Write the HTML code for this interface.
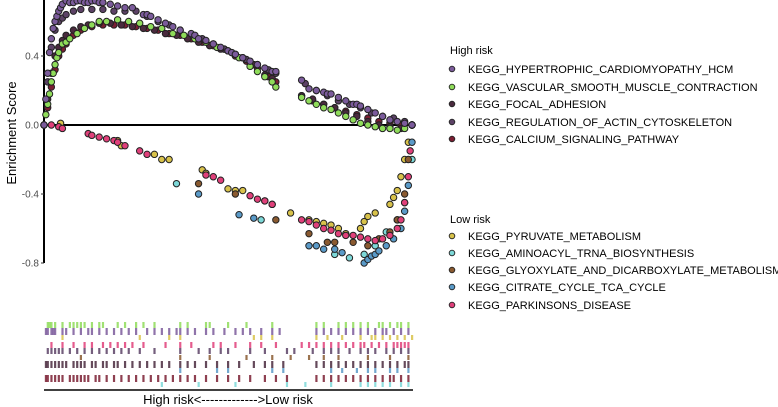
<!DOCTYPE html>
<html><head><meta charset="utf-8"><style>
html,body{margin:0;padding:0;background:#fff;}
svg{display:block;font-family:"Liberation Sans",Arial,sans-serif;}
</style></head><body>
<svg id="chart" width="778" height="407" viewBox="0 0 778 407">
<g id="plot"></g>
<g id="rug"></g>
<g id="legend"></g>
</svg>
<script>
const seriesNames = ["KEGG_HYPERTROPHIC_CARDIOMYOPATHY_HCM","KEGG_VASCULAR_SMOOTH_MUSCLE_CONTRACTION","KEGG_FOCAL_ADHESION","KEGG_REGULATION_OF_ACTIN_CYTOSKELETON","KEGG_CALCIUM_SIGNALING_PATHWAY","KEGG_PYRUVATE_METABOLISM","KEGG_AMINOACYL_TRNA_BIOSYNTHESIS","KEGG_GLYOXYLATE_AND_DICARBOXYLATE_METABOLISM","KEGG_CITRATE_CYCLE_TCA_CYCLE","KEGG_PARKINSONS_DISEASE"];
const seriesColors = ["#7b5b9b","#8fdc5a","#4a2a3e","#5c4266","#7a1e32","#d8c24a","#7dd8d8","#8a5a30","#5a9ac8","#e0407a"];
const yTicks = [0.4,0.0,-0.4,-0.8];
const yTickLabels = ["0.4","0.0","-0.4","-0.8"];
const sHCM = [[0,0],[0.005,0.15],[0.01,0.3],[0.015,0.42],[0.02,0.5],[0.025,0.56],[0.03,0.6],[0.035,0.63],[0.04,0.66],[0.045,0.68],[0.05,0.7],[0.06,0.72],[0.07,0.71],[0.08,0.71],[0.09,0.72],[0.1,0.72],[0.11,0.71],[0.12,0.71],[0.13,0.72],[0.14,0.72],[0.15,0.71],[0.16,0.71],[0.18,0.7],[0.2,0.69],[0.22,0.68],[0.24,0.68],[0.27,0.64],[0.28,0.64],[0.29,0.63],[0.31,0.61],[0.33,0.59],[0.35,0.57],[0.37,0.55],[0.4,0.53],[0.41,0.52],[0.42,0.5],[0.44,0.49],[0.46,0.47],[0.48,0.45],[0.5,0.43],[0.51,0.42],[0.52,0.41],[0.54,0.39],[0.56,0.37],[0.58,0.35],[0.6,0.33],[0.62,0.31],[0.63,0.31],[0.7,0.26],[0.72,0.21],[0.74,0.2],[0.76,0.19],[0.77,0.18],[0.78,0.18],[0.8,0.16],[0.82,0.14],[0.84,0.12],[0.85,0.12],[0.86,0.11],[0.88,0.09],[0.9,0.07],[0.92,0.05],[0.94,0.03],[0.96,0.02],[0.98,0.01],[1,0]];
const sVasc = [[0,0],[0.005,0.06],[0.01,0.12],[0.015,0.18],[0.02,0.25],[0.025,0.3],[0.03,0.35],[0.035,0.39],[0.04,0.42],[0.05,0.47],[0.06,0.48],[0.07,0.5],[0.09,0.53],[0.11,0.56],[0.13,0.58],[0.15,0.6],[0.17,0.6],[0.2,0.61],[0.23,0.6],[0.26,0.59],[0.29,0.57],[0.32,0.56],[0.35,0.53],[0.38,0.52],[0.41,0.5],[0.44,0.48],[0.47,0.45],[0.5,0.43],[0.53,0.39],[0.56,0.34],[0.58,0.31],[0.6,0.28],[0.62,0.25],[0.63,0.22],[0.7,0.16],[0.72,0.14],[0.74,0.12],[0.76,0.1],[0.78,0.09],[0.8,0.07],[0.82,0.05],[0.84,0.03],[0.86,0.01],[0.88,0.0],[0.9,-0.01],[0.92,-0.02],[0.94,-0.02],[0.96,-0.03],[0.98,-0.02],[1,0]];
const sFocal = [[0,0],[0.01,0.15],[0.02,0.3],[0.03,0.4],[0.04,0.45],[0.05,0.49],[0.06,0.52],[0.08,0.55],[0.1,0.57],[0.12,0.58],[0.15,0.59],[0.18,0.59],[0.21,0.58],[0.24,0.57],[0.27,0.56],[0.3,0.55],[0.33,0.53],[0.36,0.52],[0.39,0.5],[0.42,0.48],[0.45,0.46],[0.48,0.44],[0.51,0.42],[0.54,0.39],[0.57,0.35],[0.6,0.29],[0.62,0.27],[0.7,0.17],[0.73,0.15],[0.76,0.12],[0.79,0.1],[0.82,0.07],[0.85,0.05],[0.88,0.02],[0.91,0.0],[0.94,-0.01],[0.97,-0.02],[1,0]];
const sActin = [[0,0],[0.01,0.25],[0.02,0.45],[0.03,0.55],[0.04,0.6],[0.05,0.62],[0.06,0.64],[0.08,0.66],[0.1,0.67],[0.13,0.67],[0.16,0.67],[0.19,0.66],[0.22,0.66],[0.25,0.66],[0.28,0.63],[0.31,0.6],[0.34,0.58],[0.37,0.55],[0.4,0.52],[0.43,0.5],[0.46,0.47],[0.49,0.44],[0.52,0.41],[0.55,0.38],[0.58,0.35],[0.61,0.32],[0.63,0.3],[0.71,0.24],[0.74,0.2],[0.77,0.17],[0.8,0.14],[0.83,0.12],[0.86,0.1],[0.89,0.07],[0.92,0.05],[0.95,0.04],[0.98,0.02],[1,0]];
const sCalc = [[0,0],[0.01,0.1],[0.02,0.22],[0.03,0.32],[0.04,0.4],[0.05,0.44],[0.06,0.47],[0.08,0.52],[0.1,0.55],[0.13,0.57],[0.16,0.58],[0.19,0.58],[0.22,0.58],[0.25,0.57],[0.28,0.56],[0.31,0.55],[0.34,0.53],[0.37,0.52],[0.4,0.5],[0.43,0.48],[0.46,0.46],[0.49,0.44],[0.52,0.4],[0.55,0.37],[0.58,0.33],[0.61,0.28],[0.63,0.25],[0.7,0.17],[0.73,0.14],[0.76,0.12],[0.79,0.1],[0.82,0.08],[0.85,0.06],[0.88,0.04],[0.91,0.02],[0.94,0.01],[0.97,0.0],[1,0]];
const sPyr = [[0.045,0.01],[0.2,-0.09],[0.21,-0.12],[0.3,-0.17],[0.32,-0.2],[0.34,-0.2],[0.43,-0.26],[0.44,-0.28],[0.5,-0.37],[0.52,-0.38],[0.54,-0.38],[0.6,-0.44],[0.62,-0.46],[0.67,-0.51],[0.72,-0.55],[0.74,-0.56],[0.76,-0.57],[0.78,-0.58],[0.8,-0.6],[0.82,-0.63],[0.86,-0.6],[0.87,-0.56],[0.88,-0.53],[0.9,-0.51],[0.94,-0.46],[0.95,-0.42],[0.96,-0.38],[0.97,-0.3],[0.98,-0.2],[0.99,-0.1],[1,0]];
const sAmino = [[0.36,-0.34],[0.59,-0.55],[0.79,-0.75],[0.83,-0.77],[0.87,-0.75],[0.9,-0.7],[0.93,-0.62],[0.96,-0.55],[0.98,-0.45],[1,-0.2]];
const sGlyox = [[0.42,-0.34],[0.52,-0.4],[0.63,-0.55],[0.72,-0.63],[0.77,-0.68],[0.79,-0.68],[0.84,-0.68],[0.88,-0.7],[0.91,-0.66],[0.94,-0.62],[0.96,-0.55],[0.98,-0.4],[0.99,-0.2],[1,0]];
const sCitr = [[0.42,-0.4],[0.53,-0.52],[0.57,-0.54],[0.72,-0.7],[0.74,-0.7],[0.76,-0.72],[0.79,-0.72],[0.81,-0.74],[0.87,-0.8],[0.88,-0.78],[0.89,-0.76],[0.9,-0.75],[0.91,-0.73],[0.93,-0.7],[0.95,-0.66],[0.97,-0.6],[0.98,-0.5],[0.99,-0.35],[1,-0.1]];
const sPark = [[0.02,0],[0.04,-0.01],[0.05,-0.02],[0.12,-0.05],[0.13,-0.06],[0.15,-0.07],[0.17,-0.08],[0.19,-0.09],[0.2,-0.1],[0.22,-0.12],[0.26,-0.15],[0.28,-0.17],[0.44,-0.29],[0.46,-0.3],[0.48,-0.32],[0.56,-0.41],[0.58,-0.43],[0.6,-0.44],[0.62,-0.46],[0.7,-0.55],[0.72,-0.56],[0.74,-0.58],[0.76,-0.6],[0.78,-0.61],[0.8,-0.63],[0.82,-0.64],[0.84,-0.64],[0.86,-0.65],[0.88,-0.66],[0.9,-0.67],[0.92,-0.66],[0.94,-0.64],[0.96,-0.6],[0.97,-0.55],[0.98,-0.45],[0.99,-0.3],[0.995,-0.15],[1,0]];
const seriesData = [sHCM,sVasc,sFocal,sActin,sCalc,sPyr,sAmino,sGlyox,sCitr,sPark];
const rugVasc = [0.01,0.015,0.02,0.03,0.05,0.07,0.08,0.09,0.1,0.11,0.13,0.15,0.16,0.2,0.22,0.25,0.27,0.3,0.37,0.39,0.44,0.45,0.5,0.55,0.62,0.74,0.76,0.8,0.82,0.84,0.86,0.88,0.91,0.92,0.94,0.96,0.97,0.99];
const rugHCM = [0.005,0.01,0.02,0.025,0.03,0.05,0.06,0.08,0.1,0.12,0.13,0.15,0.17,0.19,0.21,0.23,0.25,0.28,0.3,0.32,0.34,0.36,0.37,0.39,0.41,0.44,0.46,0.49,0.52,0.54,0.56,0.59,0.62,0.64,0.74,0.76,0.78,0.8,0.82,0.84,0.86,0.88,0.9,0.92,0.93,0.95,0.97,0.99];
const rugPyr = [0.05,0.26,0.34,0.37,0.57,0.59,0.62,0.74,0.77,0.81,0.86,0.89,0.9,0.92,0.94,0.96,0.98,1.0];
const rugPark = [0.02,0.05,0.08,0.11,0.13,0.16,0.18,0.2,0.22,0.24,0.27,0.33,0.37,0.4,0.46,0.48,0.52,0.56,0.59,0.63,0.7,0.72,0.74,0.76,0.78,0.8,0.82,0.84,0.86,0.87,0.89,0.91,0.93,0.95,0.96,0.97,0.98,0.99];
const rugActin = [0.01,0.02,0.03,0.04,0.05,0.07,0.09,0.11,0.13,0.15,0.17,0.19,0.21,0.23,0.26,0.3,0.37,0.42,0.45,0.48,0.5,0.56,0.6,0.66,0.68,0.73,0.76,0.78,0.8,0.83,0.86,0.88,0.9,0.93,0.95,0.97,0.99];
const rugGlyox = [0.1,0.37,0.45,0.55,0.62,0.67,0.72,0.76,0.8,0.88,0.94,0.99];
const rugFocal = [0.005,0.01,0.02,0.03,0.04,0.05,0.06,0.08,0.09,0.1,0.11,0.13,0.14,0.16,0.17,0.19,0.2,0.22,0.24,0.26,0.28,0.3,0.32,0.34,0.37,0.39,0.41,0.44,0.47,0.5,0.53,0.57,0.6,0.62,0.65,0.74,0.76,0.78,0.8,0.82,0.84,0.86,0.88,0.9,0.92,0.94,0.96,0.98,0.99];
const rugCitr = [0.37,0.47,0.5,0.62,0.65,0.78,0.81,0.85,0.88,0.9,0.94,0.96,0.99];
const rugCalc = [0.005,0.01,0.02,0.03,0.04,0.05,0.07,0.08,0.09,0.1,0.11,0.12,0.14,0.15,0.17,0.19,0.21,0.23,0.25,0.27,0.29,0.31,0.33,0.35,0.37,0.39,0.41,0.44,0.47,0.5,0.53,0.56,0.6,0.63,0.66,0.74,0.76,0.78,0.8,0.82,0.84,0.86,0.88,0.9,0.92,0.94,0.95,0.97,0.99];
const rugAmino = [0.32,0.42,0.52,0.66,0.71,0.78,0.86,0.88,0.9,0.92,0.94,0.97,0.99];
const rugRows = [rugVasc,rugHCM,rugPyr,rugPark,rugActin,rugGlyox,rugFocal,rugCitr,rugCalc,rugAmino];
const rugRowSeries = [1,0,5,9,3,7,2,8,4,6];

const NS="http://www.w3.org/2000/svg";
const X0=44,X1=412,Y0=125,K=172.5;
const xs=f=>X0+f*(X1-X0);
const ys=v=>Y0-v*K;
function mk(tag,attrs,parent){const e=document.createElementNS(NS,tag);for(const k in attrs)e.setAttribute(k,attrs[k]);parent.appendChild(e);return e;}
const plot=document.getElementById('plot');
let yl=mk('line',{x1:X0,y1:0,x2:X0,y2:ys(-0.8),stroke:'#000','stroke-width':2},plot);


let zl=mk('line',{x1:X0,y1:ys(0),x2:X1,y2:ys(0),stroke:'#000','stroke-width':2},plot);


yTicks.forEach((t,i)=>{
  const tk=mk('line',{x1:X0-3,y1:ys(t),x2:X0,y2:ys(t),stroke:'#333','stroke-width':1},plot);
  
  
  const tl=mk('text',{x:X0-5,y:ys(t)+3.5,'text-anchor':'end','font-size':10,fill:'#4d4d4d'},plot);
  tl.textContent=yTickLabels[i];
  
  
});
const yt=mk('text',{x:0,y:0,transform:'translate(16,133) rotate(-90)','text-anchor':'middle','font-size':13,fill:'#000'},plot);
yt.textContent='Enrichment Score';


const order=[5,6,7,8,9,4,3,2,1,0];
order.forEach(si=>{
  const g=mk('g',{},plot);
  
  
  seriesData[si].forEach(p=>{
    const c=mk('circle',{cx:xs(p[0]),cy:ys(p[1]),r:3.2,fill:seriesColors[si],stroke:'#222','stroke-width':1},g);
    
    
  });
});
const rug=document.getElementById('rug');
const rowY=[322,328,335,342,348,355,361,368,375,382];
const rowH=[6,7,5,6,6,5,7,5,7,5];
rugRows.forEach((row,ri)=>{
  const g=mk('g',{},rug);
  
  
  row.forEach(f=>{
    const r=mk('rect',{x:xs(f)-1,y:rowY[ri],width:2.2,height:rowH[ri],fill:seriesColors[rugRowSeries[ri]],opacity:0.85},g);
    
    
  });
});
let bl=mk('line',{x1:X0,y1:390,x2:X1+1,y2:390,stroke:'#000','stroke-width':1.6},rug);


let xt=mk('text',{x:228,y:404,'text-anchor':'middle','font-size':13,fill:'#000'},rug);
xt.textContent='High risk<------------->Low risk';


const leg=document.getElementById('legend');
const groups=[{title:'High risk',ty:50,ys:[69,87,104,122,139],idx:[0,1,2,3,4]},{title:'Low risk',ty:219,ys:[236,253,270,287,305],idx:[5,6,7,8,9]}];
groups.forEach(gr=>{
  const t=mk('text',{x:450,y:gr.ty+4,'font-size':11,fill:'#000'},leg);
  t.textContent=gr.title;
  
  
  gr.idx.forEach((si,k)=>{
    const g=mk('g',{},leg);
    
    
    mk('circle',{cx:452,cy:gr.ys[k],r:2.8,fill:seriesColors[si],stroke:'#222','stroke-width':0.9},g);
    const lt=mk('text',{x:468,y:gr.ys[k]+4,'font-size':11,fill:'#000'},g);
    lt.textContent=seriesNames[si];
  });
});
</script>
</body></html>
